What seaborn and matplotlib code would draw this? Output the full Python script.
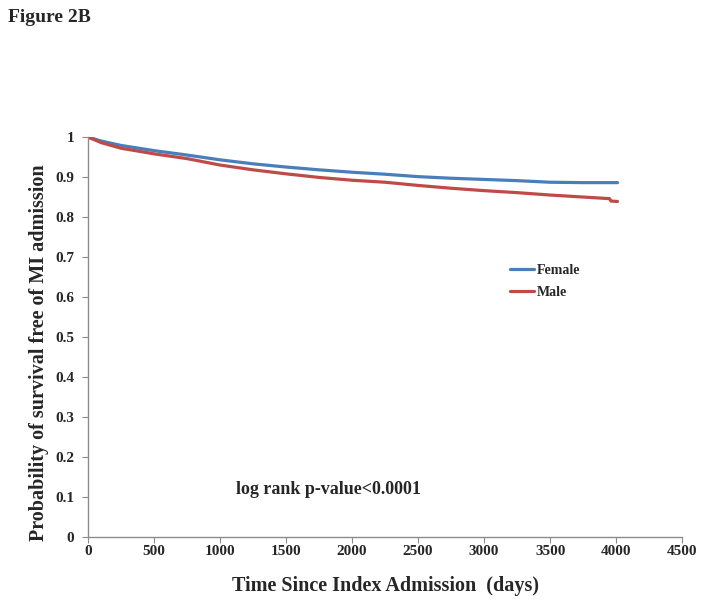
import pandas as pd
import numpy as np
import matplotlib
matplotlib.use("Agg")
import matplotlib.pyplot as plt
import seaborn as sns

# Survival curves (days, probability)
female_days = [0, 100, 250, 500, 750, 1000, 1250, 1500, 1750, 2000, 2250, 2500,
               2750, 3000, 3250, 3500, 3750, 3950, 4010]
female_surv = [1.0, 0.990, 0.979, 0.966, 0.955, 0.943, 0.933, 0.925, 0.918, 0.912,
               0.907, 0.901, 0.897, 0.894, 0.891, 0.887, 0.886, 0.886, 0.886]
male_days = [0, 100, 250, 500, 750, 1000, 1250, 1500, 1750, 2000, 2250, 2500,
             2750, 3000, 3250, 3500, 3750, 3950, 3960, 4010]
male_surv = [1.0, 0.986, 0.972, 0.958, 0.946, 0.930, 0.918, 0.908, 0.899, 0.892,
             0.887, 0.879, 0.872, 0.866, 0.861, 0.855, 0.850, 0.846, 0.840, 0.839]

x_ticks = [0, 500, 1000, 1500, 2000, 2500, 3000, 3500, 4000, 4500]
y_ticks = [0, 0.1, 0.2, 0.3, 0.4, 0.5, 0.6, 0.7, 0.8, 0.9, 1]
y_tick_labels = ["0", "0.1", "0.2", "0.3", "0.4", "0.5", "0.6", "0.7", "0.8", "0.9", "1"]

df = pd.concat([
    pd.DataFrame({"days": female_days, "surv": female_surv, "sex": "Female"}),
    pd.DataFrame({"days": male_days, "surv": male_surv, "sex": "Male"}),
])

sns.set_style("white")
plt.rcParams["font.family"] = ["Liberation Serif", "DejaVu Serif"]
plt.rcParams["font.weight"] = "bold"

fig = plt.figure(figsize=(7.04, 6.09), dpi=100)
ax = fig.add_axes([0.125, 0.118, 0.844, 0.657])

sns.lineplot(data=df, x="days", y="surv", hue="sex", sort=False,
             palette={"Female": "#4A7EBB", "Male": "#BE4B48"},
             linewidth=2.3, ax=ax)

ax.set_xlim(0, 4500)
ax.set_ylim(0, 1)
ax.set_xticks(x_ticks)
ax.set_xticklabels([str(t) for t in x_ticks])
ax.set_yticks(y_ticks)
ax.set_yticklabels(y_tick_labels)
ax.tick_params(axis="both", labelsize=11, length=4, color="#8c8c8c",
               direction="out", bottom=True, left=True)
ax.tick_params(axis="x", pad=2)
ax.tick_params(axis="y", pad=6)
for lab in ax.get_xticklabels() + ax.get_yticklabels():
    lab.set_fontweight("bold")

sns.despine(ax=ax)
for s in ["left", "bottom"]:
    ax.spines[s].set_color("#8c8c8c")
    ax.spines[s].set_linewidth(1)

ax.set_xlabel("Time Since Index Admission  (days)", fontsize=14.5,
              fontweight="bold")
ax.xaxis.set_label_coords(0.5, -0.097)
ax.set_ylabel("Probability of survival free of MI admission", fontsize=14.5,
              fontweight="bold")
ax.yaxis.set_label_coords(-0.066, 0.46)

ax.legend(loc="upper left", bbox_to_anchor=(0.69, 0.715), frameon=False,
          handlelength=1.7, handletextpad=0.2, labelspacing=0.7,
          prop={"size": 10, "weight": "bold"})

ax.text(1120, 0.118, "log rank p-value<0.0001", fontsize=13,
        fontweight="bold", va="center", ha="left")

fig.text(0.011, 0.972, "Figure 2B", fontsize=14, fontweight="bold",
         va="center", ha="left")

fig.savefig("out.png", dpi=100)
